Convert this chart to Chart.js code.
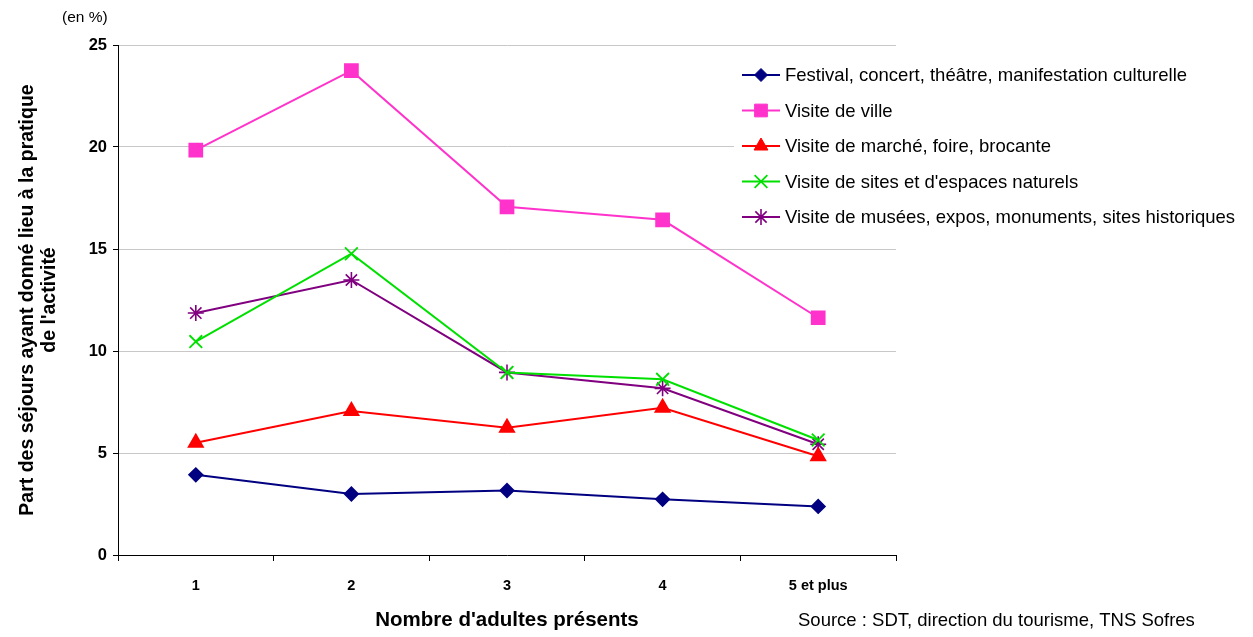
<!DOCTYPE html>
<html>
<head>
<meta charset="utf-8">
<script src="https://cdn.jsdelivr.net/npm/chart.js@4/dist/chart.umd.min.js"></script>
<style>
  html, body { margin: 0; padding: 0; background: #fff; }
  #wrap { width: 1253px; height: 637px; position: relative; }
</style>
</head>
<body>
<div id="wrap"><canvas id="chart" width="1253" height="637"></canvas></div>
<script>
// categories and values
const categories = ['1', '2', '3', '4', '5 et plus'];
const festival = [3.93, 2.99, 3.16, 2.73, 2.38];
const visiteVille = [19.85, 23.74, 17.07, 16.43, 11.63];
const marche = [5.5, 7.06, 6.24, 7.22, 4.84];
const sitesNaturels = [10.46, 14.77, 8.95, 8.61, 5.64];
const musees = [11.86, 13.48, 8.95, 8.17, 5.43];
const yTicks = [0, 5, 10, 15, 20, 25];

const FONT = "'Liberation Sans', Arial, sans-serif";

// legend drawn over the right part of the plot, on a white box
const overlayLegend = {
  id: 'overlayLegend',
  afterDraw(chart) {
    const ctx = chart.ctx;
    ctx.save();
    ctx.fillStyle = '#fff';
    ctx.fillRect(734, 56, 519, 180);
    chart.data.datasets.forEach((ds, i) => {
      const y = 75 + i * 35.5;
      ctx.strokeStyle = ds.borderColor;
      ctx.lineWidth = 2;
      ctx.beginPath();
      ctx.moveTo(742, y);
      ctx.lineTo(780, y);
      ctx.stroke();
      ctx.fillStyle = ds.backgroundColor;
      ctx.strokeStyle = ds.borderColor;
      ctx.lineWidth = ds.pointBorderWidth || 1;
      Chart.helpers.drawPoint(ctx, {
        pointStyle: ds.pointStyle,
        radius: ds.pointRadius,
        borderWidth: ds.pointBorderWidth || 1,
        rotation: 0
      }, 761, y);
      ctx.fillStyle = '#000';
      ctx.font = '18.5px ' + FONT;
      ctx.textBaseline = 'middle';
      ctx.textAlign = 'left';
      ctx.fillText(ds.label, 785, y + 1);
    });
    // unit and source
    ctx.fillStyle = '#000';
    ctx.font = '15.5px ' + FONT;
    ctx.textAlign = 'left';
    ctx.textBaseline = 'middle';
    ctx.fillText('(en %)', 62, 18);
    ctx.font = '18.5px ' + FONT;
    ctx.fillText('Source : SDT, direction du tourisme, TNS Sofres', 798, 621);
    ctx.restore();
  }
};

new Chart(document.getElementById('chart'), {
  type: 'line',
  data: {
    labels: categories,
    datasets: [
      { label: 'Festival, concert, théâtre, manifestation culturelle', data: festival,
        borderColor: '#000080', backgroundColor: '#000080', pointStyle: 'rectRot', pointRadius: 6.5 },
      { label: 'Visite de ville', data: visiteVille,
        borderColor: '#FF33CC', backgroundColor: '#FF33CC', pointStyle: 'rect', pointRadius: 9 },
      { label: 'Visite de marché, foire, brocante', data: marche,
        borderColor: '#FF0000', backgroundColor: '#FF0000', pointStyle: 'triangle', pointRadius: 8 },
      { label: "Visite de sites et d'espaces naturels", data: sitesNaturels,
        borderColor: '#00E000', backgroundColor: '#00E000', pointStyle: 'crossRot', pointRadius: 9, pointBorderWidth: 1.8 },
      { label: 'Visite de musées, expos, monuments, sites historiques', data: musees,
        borderColor: '#800080', backgroundColor: '#800080', pointStyle: 'star', pointRadius: 8, pointBorderWidth: 1.6 }
    ].map(d => Object.assign({ borderWidth: 2, tension: 0, pointHoverRadius: d.pointRadius }, d))
  },
  options: {
    responsive: false,
    animation: false,
    layout: { padding: { left: 0, right: 357, top: 45, bottom: 0 } },
    plugins: { legend: { display: false }, tooltip: { enabled: false } },
    scales: {
      x: {
        offset: true,
        grid: { offset: true, drawOnChartArea: false, color: '#000', tickLength: 6, tickColor: '#000' },
        border: { color: '#000', width: 1 },
        ticks: { color: '#000', font: { family: FONT, size: 14.5, weight: 'bold' }, padding: 16 },
        title: { display: true, text: "Nombre d'adultes présents", color: '#000',
                 font: { family: FONT, size: 20.5, weight: 'bold' }, padding: { top: 14, bottom: 4 } },
        afterFit(scale) { scale.height = 82; }
      },
      y: {
        min: 0, max: 25,
        afterBuildTicks(scale) { scale.ticks = yTicks.map(v => ({ value: v })); },
        grid: { color: '#c8c8c8', tickColor: '#000', tickLength: 5 },
        border: { color: '#000', width: 1 },
        ticks: { color: '#000', font: { family: FONT, size: 16.5, weight: 'bold' }, padding: 6 },
        title: { display: true, text: ['Part des séjours ayant donné lieu à la pratique', "de l'activité"],
                 color: '#000', font: { family: FONT, size: 19.5, weight: 'bold', lineHeight: 1.15 },
                 padding: { top: 16, bottom: 0 } },
        afterFit(scale) { scale.width = 118; }
      }
    }
  },
  plugins: [overlayLegend]
});
</script>
</body>
</html>
